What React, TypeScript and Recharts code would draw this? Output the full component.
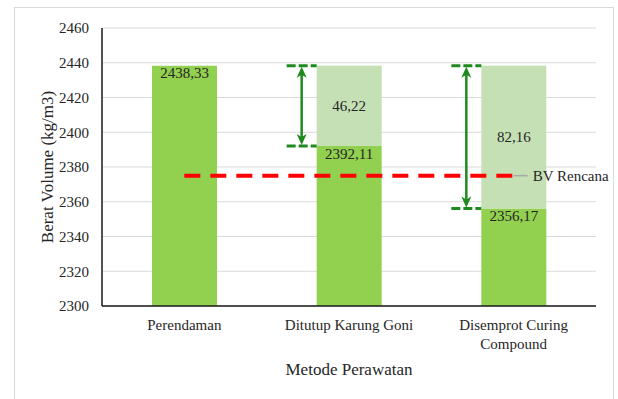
import { ComposedChart, Bar, Line, XAxis, YAxis, CartesianGrid, LabelList, Text } from 'recharts'

const kategori = ['Perendaman', 'Ditutup Karung Goni', 'Disemprot Curing Compound']
const beratVolume = [2438.33, 2392.11, 2356.17]
const selisih = [null, 46.22, 82.16]
const bvRencana = [2375, 2375, 2375]
const yTicks = [2300, 2320, 2340, 2360, 2380, 2400, 2420, 2440, 2460]

const data = kategori.map((nama, i) => ({
  nama,
  berat: beratVolume[i],
  selisih: selisih[i],
  rencana: bvRencana[i],
}))

const FONT = '"Liberation Serif", "Times New Roman", serif'
const GREEN = '#92d050'
const LIGHT = '#c5e0b4'
const ARROW = '#1e8a1e'
const TEXT = '#262626'

const fmt = (v: any) => (v == null ? '' : Number(v).toFixed(2).replace('.', ','))

// light segment on top of the bar, plus the dashed caps and double arrow beside it
function SelisihShape(props: any) {
  const { x, y, width, height, fill } = props
  if (!height || height <= 0) return null
  const ax = x - 15
  const top = y
  const bot = y + height
  return (
    <g>
      <rect x={x} y={y} width={width} height={height} fill={fill} />
      <line x1={x - 30} x2={x} y1={top} y2={top} stroke={ARROW} strokeWidth={3} strokeDasharray="9 3" />
      <line x1={x - 30} x2={x} y1={bot} y2={bot} stroke={ARROW} strokeWidth={3} strokeDasharray="9 3" />
      <line x1={ax} x2={ax} y1={top + 6} y2={bot - 6} stroke={ARROW} strokeWidth={2.5} />
      <path d={`M${ax},${top + 1} L${ax + 5},${top + 12} L${ax},${top + 9} L${ax - 5},${top + 12} Z`} fill={ARROW} />
      <path d={`M${ax},${bot - 1} L${ax + 5},${bot - 12} L${ax},${bot - 9} L${ax - 5},${bot - 12} Z`} fill={ARROW} />
    </g>
  )
}

function XTick({ x, y, payload }: any) {
  return (
    <Text
      x={x}
      y={y}
      width={150}
      textAnchor="middle"
      verticalAnchor="start"
      lineHeight={19}
      fill={TEXT}
      style={{ fontFamily: FONT, fontSize: 15 }}
    >
      {payload.value}
    </Text>
  )
}

function RencanaLabel({ x, y, index }: any) {
  if (index !== bvRencana.length - 1) return null
  return (
    <g>
      <line x1={x} x2={x + 14} y1={y} y2={y} stroke="#a6a6a6" strokeWidth={1.5} />
      <text x={x + 19} y={y} dy="0.35em" fill={TEXT} style={{ fontFamily: FONT, fontSize: 15 }}>
        BV Rencana
      </text>
    </g>
  )
}

function YTitle({ viewBox }: any) {
  const cx = viewBox.x + 33
  const cy = viewBox.y + viewBox.height / 2
  return (
    <text
      transform={`translate(${cx},${cy}) rotate(-90)`}
      textAnchor="middle"
      dy="0.35em"
      fill={TEXT}
      style={{ fontFamily: FONT, fontSize: 17 }}
    >
      Berat Volume (kg/m3)
    </text>
  )
}

function XTitle({ viewBox }: any) {
  const cx = viewBox.x + viewBox.width / 2
  const by = viewBox.y + viewBox.height - 24
  return (
    <text x={cx} y={by} textAnchor="middle" fill={TEXT} style={{ fontFamily: FONT, fontSize: 17 }}>
      Metode Perawatan
    </text>
  )
}

const labelStyle = { fontFamily: FONT, fontSize: 15 }

export default function App() {
  return (
    <div
      style={{
        position: 'absolute',
        left: 0,
        top: 0,
        width: 618,
        height: 399,
        background: '#fff',
        overflow: 'hidden',
        fontFamily: FONT,
      }}
    >
      <div
        style={{
          position: 'absolute',
          left: 14,
          top: 7,
          width: 600,
          height: 420,
          border: '1.5px solid #d9d9d9',
          boxSizing: 'border-box',
        }}
      />
      <div style={{ position: 'absolute', left: 0, top: 0 }}>
        <ComposedChart
          width={618}
          height={399}
          data={data}
          margin={{ top: 28, right: 22, left: 14, bottom: 0 }}
          barSize={65}
          style={{ fontFamily: FONT }}
        >
          <CartesianGrid vertical={false} stroke="#d9d9d9" strokeWidth={1.2} />
          <XAxis
            dataKey="nama"
            height={93}
            tickLine={false}
            tickSize={0}
            tickMargin={13}
            axisLine={{ stroke: '#1a1a1a', strokeWidth: 1.5 }}
            tick={<XTick />}
            interval={0}
            label={<XTitle />}
          />
          <YAxis
            width={88}
            domain={[2300, 2460]}
            ticks={yTicks}
            allowDataOverflow
            tickLine={false}
            tickSize={0}
            tickMargin={13}
            axisLine={{ stroke: '#1a1a1a', strokeWidth: 1.5 }}
            tick={{ fill: TEXT, fontSize: 15, style: labelStyle }}
            label={<YTitle />}
          />
          <Bar dataKey="berat" stackId="a" fill={GREEN} isAnimationActive={false}>
            <LabelList
              dataKey="berat"
              position="insideTop"
              offset={2}
              formatter={fmt}
              fill={TEXT}
              fontSize={15}
              style={labelStyle}
            />
          </Bar>
          <Bar dataKey="selisih" stackId="a" fill={LIGHT} shape={<SelisihShape />} isAnimationActive={false}>
            <LabelList
              dataKey="selisih"
              position="center"
              formatter={fmt}
              fill={TEXT}
              fontSize={15}
              style={labelStyle}
            />
          </Bar>
          <Line
            dataKey="rencana"
            stroke="#ff0000"
            strokeWidth={4}
            strokeDasharray="16 10"
            dot={false}
            activeDot={false}
            isAnimationActive={false}
          >
            <LabelList dataKey="rencana" content={<RencanaLabel />} />
          </Line>
        </ComposedChart>
      </div>
    </div>
  )
}
